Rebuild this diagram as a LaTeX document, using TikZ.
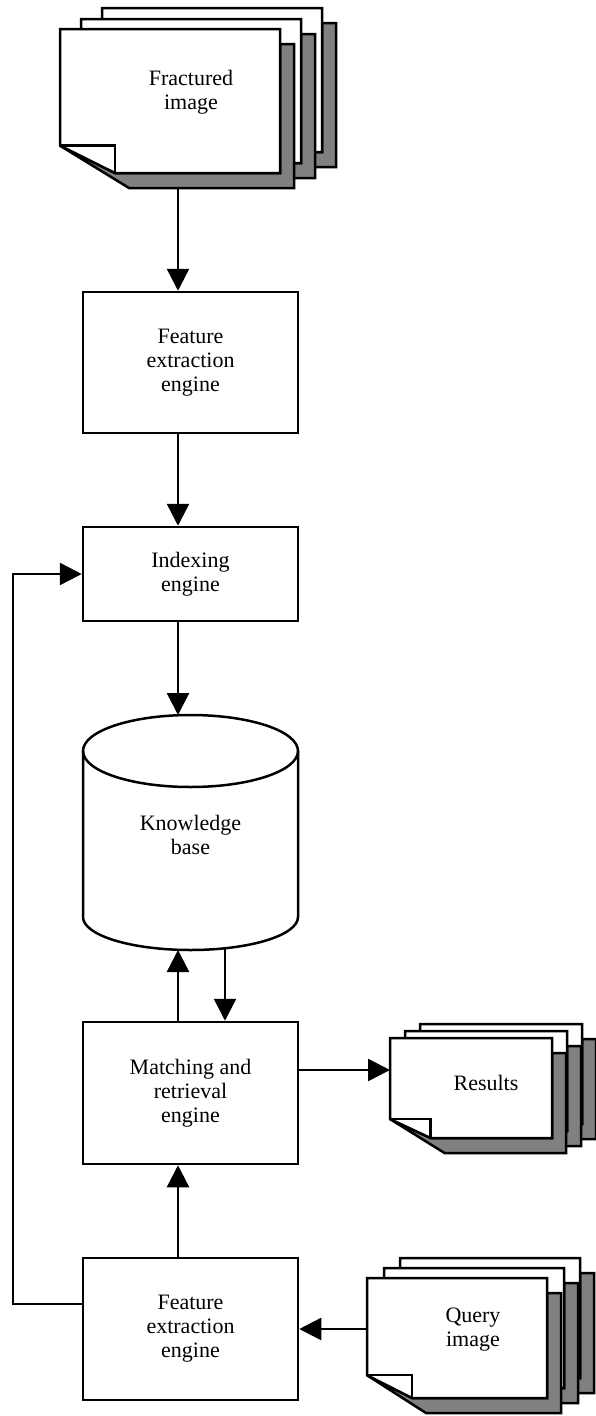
\documentclass[tikz,border=0pt]{standalone}
\usepackage{fontspec}
\setmainfont{Liberation Serif}
\usetikzlibrary{arrows.meta, positioning, calc}
\newcommand{\lblfont}{\fontsize{22}{24}\selectfont}
% one sheet of a document stack: left, top, width, height
\newcommand{\docpage}[4]{%
  \pgfmathsetmacro{\dL}{#1}\pgfmathsetmacro{\dT}{#2}%
  \pgfmathsetmacro{\dR}{#1+#3}\pgfmathsetmacro{\dB}{#2+#4}%
  \pgfmathsetmacro{\dFx}{#1+0.25*#3}\pgfmathsetmacro{\dFy}{#2+0.81*#4}%
  \filldraw[docshadow] (\dL,\dFy) -- (\dFx+14,\dB+15) -- (\dR+14,\dB+15) -- (\dR+14,\dT+15)
    -- (\dR,\dT+15) -- (\dR,\dB) -- (\dFx,\dB) -- cycle;
  \filldraw[docpage] (\dL,\dT) -- (\dR,\dT) -- (\dR,\dB) -- (\dFx,\dB) -- (\dL,\dFy) -- cycle;
  \draw[docline] (\dL,\dFy) -- (\dFx,\dFy) -- (\dFx,\dB);
}
\tikzset{
  engine/.style={rectangle, draw=black, line width=2.5pt, fill=white, minimum width=215pt,
                 align=center, inner sep=0pt, font=\lblfont},
  lbl/.style={align=center, font=\lblfont, inner sep=0pt},
  arrow/.style={-{Triangle[length=22pt,width=22pt]}, line width=2.5pt},
  link/.style={line width=2.5pt},
  docshadow/.style={fill=black!50, draw=black, line width=2.5pt},
  docpage/.style={fill=white, draw=black, line width=2.5pt},
  docline/.style={draw=black, line width=2.5pt},
}

\begin{document}
\begin{tikzpicture}[x=1pt, y=-1pt]
    \useasboundingbox (0,0) rectangle (595,1416);
    % fractured image stack
    \foreach \l/\t in {102/8, 81/19, 60/29} {\docpage{\l}{\t}{220}{144}}
    \node[lbl] (fract) at (191,92) {Fractured\\image};
    \coordinate (fractout) at (178,188);
    % engines
    \node[engine, minimum height=141pt] (feat1) at (190.5,362.5) {Feature\\extraction\\engine};
    \node[engine, minimum height=94pt] (index) at (190.5,574) {Indexing\\engine};
    \node[engine, minimum height=142pt] (match) at (190.5,1093) {Matching and\\retrieval\\engine};
    \node[engine, minimum height=142pt] (feat2) at (190.5,1329) {Feature\\extraction\\engine};
    % knowledge base
    \draw[link] (83,751) -- (83,917) arc[start angle=180, end angle=360, x radius=107.5pt, y radius=33pt] -- (298,751);
    \draw[link] (190.5,751) ellipse[x radius=107.5pt, y radius=36pt];
    \node[lbl] (kb) at (190.5,835) {Knowledge\\base};
    \coordinate (kbtop) at (178,715);
    \coordinate (kbup) at (178,950);
    \coordinate (kbdown) at (225,948);
    % results and query stacks
    \foreach \l/\t in {420/1024, 405/1031, 390/1038} {\docpage{\l}{\t}{162}{100}}
    \node[lbl] (results) at (486,1083) {Results};
    \foreach \l/\t in {400/1258, 384/1268, 367/1278} {\docpage{\l}{\t}{180}{120}}
    \node[lbl] (query) at (473,1330) {Query\\image};
    % connectors
    \coordinate (spine) at (178,0);
    \coordinate (resin) at (390,1070);
    \coordinate (qout) at (367,1329);
    \coordinate (loop) at (13,1304);
    \draw[arrow] (fractout) -- (feat1.north -| spine);
    \draw[arrow] (feat1.south -| spine) -- (index.north -| spine);
    \draw[arrow] (index.south -| spine) -- (kbtop);
    \draw[arrow] (match.north -| spine) -- (kbup);
    \draw[arrow] (kbdown) -- (match.north -| kbdown);
    \draw[arrow] (feat2.north -| spine) -- (match.south -| spine);
    \draw[arrow] (match.east |- resin) -- (resin);
    \draw[arrow] (qout) -- (feat2.east |- qout);
    \draw[arrow] (feat2.west |- loop) -- (loop) |- (index.west);
\end{tikzpicture}
\end{document}
